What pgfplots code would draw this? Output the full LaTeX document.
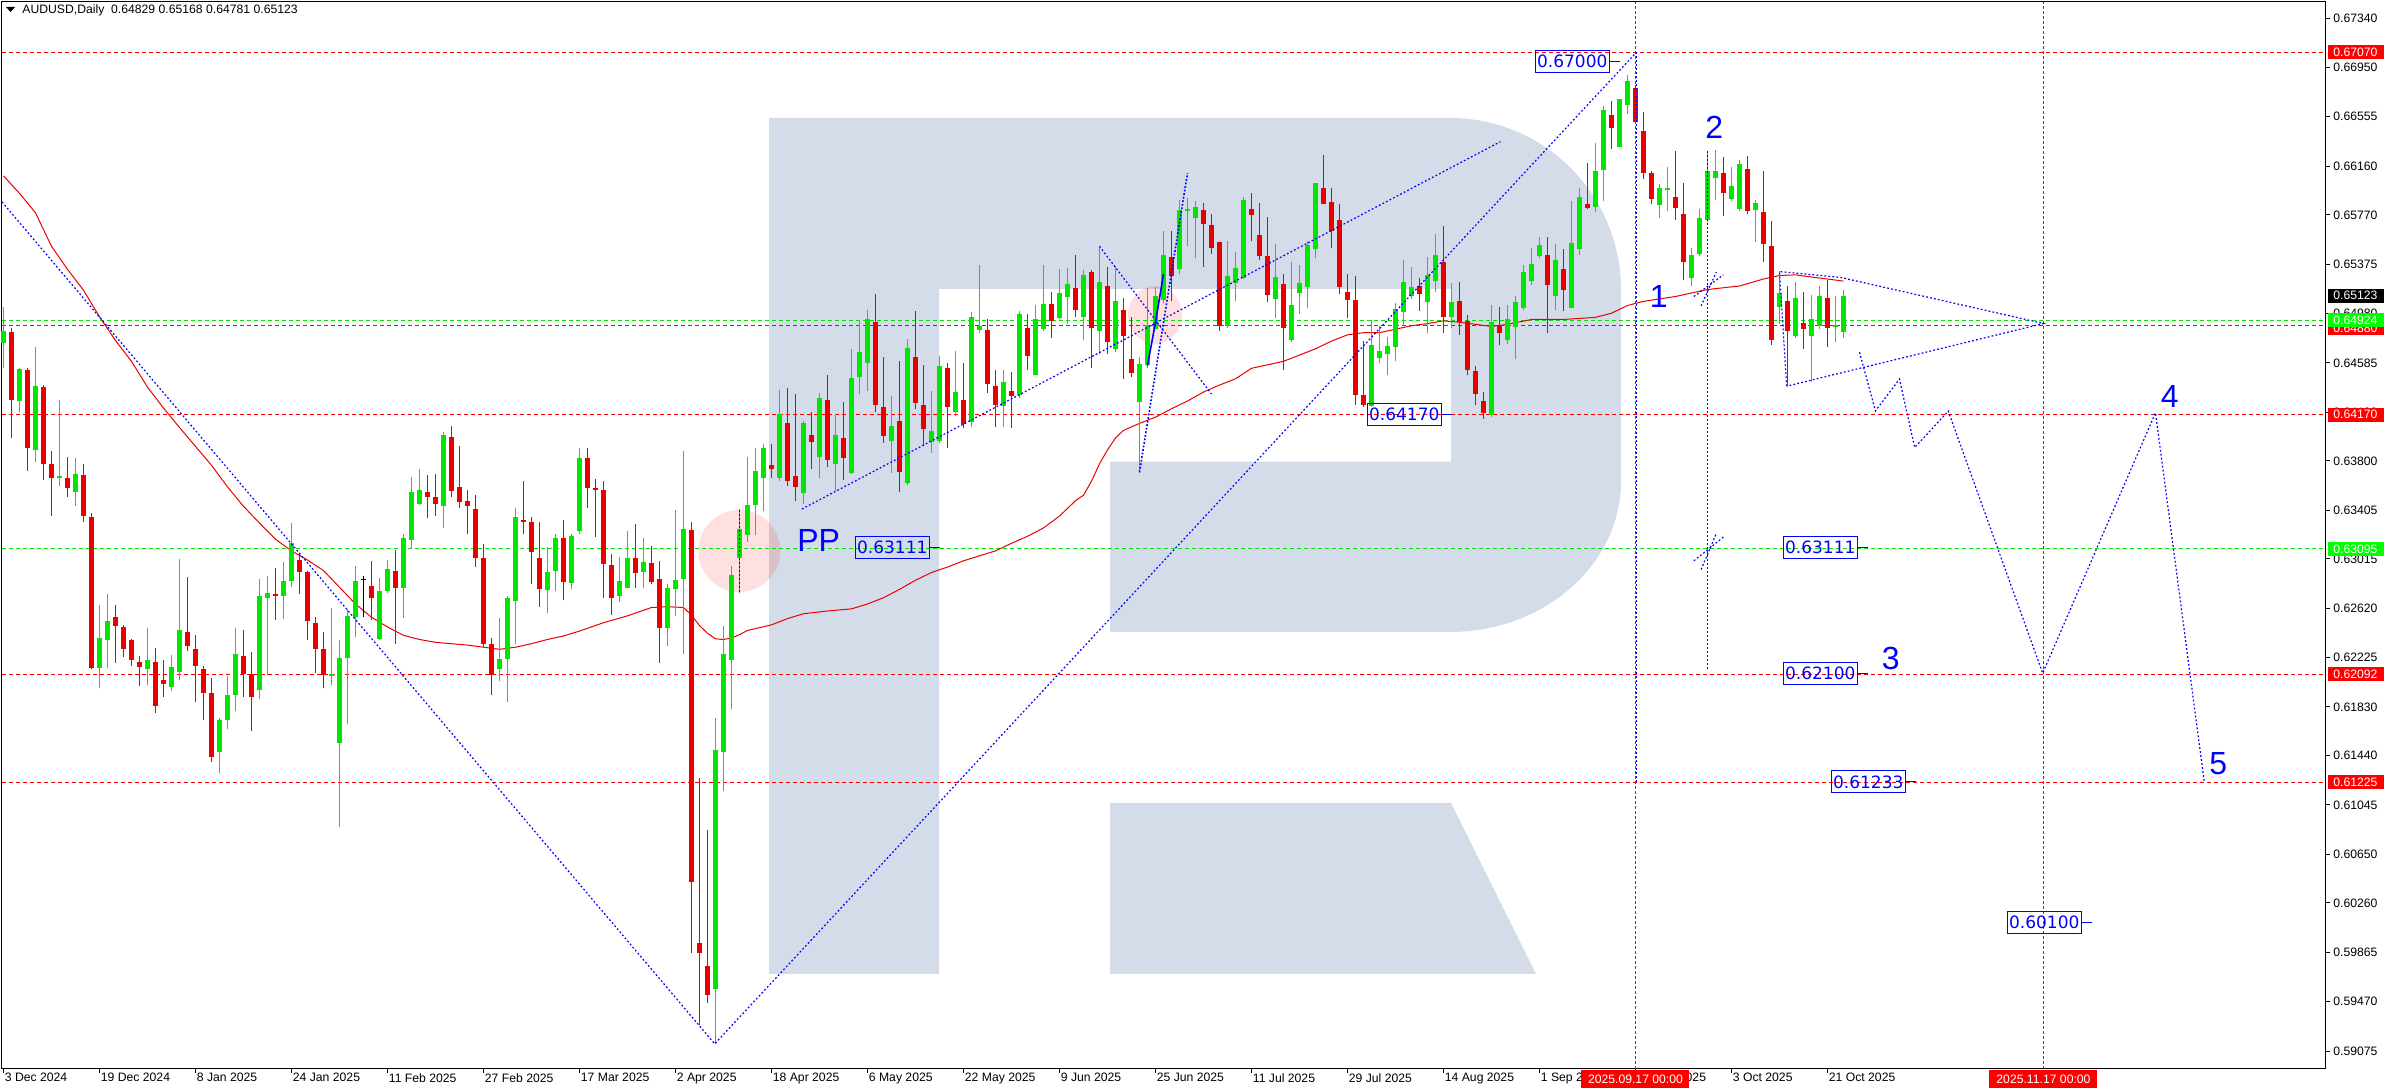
\documentclass[border=0pt]{standalone}
\usepackage{fontspec}
\setmainfont{Liberation Sans}
\newfontfamily\dvs{DejaVu Sans}
\usepackage{pgfplots}
\usepackage{pgfplotstable}
\pgfplotsset{compat=1.18}

\definecolor{cgreen}{RGB}{0,230,0}
\definecolor{cred}{RGB}{235,0,0}
\definecolor{cblue}{RGB}{0,0,255}
\definecolor{logo}{RGB}{211,220,232}
\definecolor{bgreen}{RGB}{0,255,0}
\definecolor{bred}{RGB}{255,0,0}

% bullish candles: bar index, open, high, low, close
\pgfplotstableread{
i o h l c
0 .64742 .65032 .64541 .64837
2 .64279 .64547 .64195 .64536
4 .63888 .64709 .63793 .64396
7 .63665 .64284 .63598 .63676
9 .63553 .63821 .63441 .63693
12 .62141 .62649 .61979 .62381
13 .62364 .62732 .62141 .62520
18 .62130 .62459 .62007 .62202
21 .61990 .62247 .61956 .62152
22 .62113 .63017 .62046 .62448
27 .61471 .61739 .61303 .61722
28 .61722 .62074 .61655 .61929
29 .61929 .62459 .61800 .62252
32 .61962 .62855 .61895 .62716
33 .62699 .62878 .62085 .62744
35 .62716 .62989 .62537 .62839
36 .62839 .63302 .62788 .63146
41 .62079 .62621 .62007 .62090
42 .61543 .62364 .60868 .62219
43 .62219 .62610 .61694 .62559
44 .62548 .62961 .62392 .62839
47 .62375 .62866 .62364 .62760
48 .62755 .63006 .62744 .62933
50 .62783 .63212 .62543 .63185
51 .63168 .63670 .63095 .63548
52 .63458 .63732 .63447 .63564
55 .63441 .64033 .63263 .64005
62 .62130 .62543 .62035 .62213
63 .62213 .62716 .61867 .62699
64 .62677 .63419 .62330 .63347
68 .62766 .63112 .62582 .62911
69 .62917 .63218 .62755 .63185
71 .62822 .63218 .62771 .63201
72 .63235 .63905 .63218 .63821
77 .62716 .63034 .62666 .62839
78 .62783 .63240 .62783 .63023
80 .62911 .63179 .62783 .62989
83 .62459 .62811 .62314 .62783
84 .62771 .63408 .62554 .62844
85 .62855 .63877 .62252 .63257
89 .59573 .61739 .59132 .61488
90 .61471 .62481 .61153 .62252
91 .62208 .62956 .61810 .62889
92 .63023 .63414 .62744 .63257
93 .63207 .63827 .63151 .63447
94 .63447 .63905 .63207 .63715
95 .63665 .63938 .63397 .63905
97 .63659 .64368 .63637 .64173
100 .63542 .64117 .63458 .64106
102 .63832 .64340 .63665 .64307
104 .63776 .64173 .63559 .64005
106 .63704 .64692 .63693 .64463
107 .64474 .64926 .64335 .64670
108 .64580 .65005 .64363 .64938
111 .63961 .64318 .63704 .64078
113 .63620 .64776 .63603 .64703
116 .63955 .64357 .63866 .64039
117 .63961 .64642 .63944 .64563
119 .64195 .64681 .64156 .64351
121 .64111 .64988 .64072 .64949
122 .64848 .65367 .64820 .64876
125 .64240 .64524 .64072 .64430
127 .64324 .64999 .64307 .64977
129 .64485 .65049 .64485 .64932
130 .64854 .65367 .64843 .65055
132 .64943 .65339 .64932 .65144
133 .65111 .65345 .64893 .65217
135 .64949 .65328 .64764 .65289
137 .64837 .65507 .64653 .65233
139 .64697 .65362 .64670 .65077
142 .64268 .64631 .63704 .64575
143 .64569 .65183 .64547 .64887
144 .64854 .65189 .64854 .65116
145 .65088 .65641 .65060 .65446
147 .65339 .65892 .65300 .65808
148 .65803 .65903 .65524 .65820
149 .65741 .65881 .65423 .65836
153 .64882 .65563 .64865 .65278
154 .65228 .65473 .65077 .65345
155 .65267 .65914 .65256 .65892
159 .65099 .65535 .64943 .65272
161 .64764 .65395 .64753 .65049
162 .65144 .65367 .64977 .65228
163 .65189 .65563 .65021 .65529
164 .65496 .66021 .65423 .66021
171 .64240 .64926 .64234 .64725
172 .64625 .64882 .64586 .64681
173 .64653 .64792 .64485 .64720
174 .64709 .65066 .64597 .65016
175 .64993 .65406 .64882 .65233
176 .65122 .65351 .65099 .65189
178 .65071 .65434 .64820 .65289
179 .65239 .65619 .65155 .65446
181 .64949 .65222 .64865 .65071
186 .64167 .65044 .64150 .64910
188 .64764 .65044 .64737 .64932
189 .64871 .65122 .64614 .65071
190 .65021 .65367 .65005 .65312
191 .65239 .65507 .65211 .65379
192 .65440 .65591 .65423 .65529
194 .65116 .65535 .65005 .65412
196 .65021 .65881 .65021 .65546
197 .65496 .65981 .65451 .65909
199 .65836 .66344 .65792 .66121
200 .66132 .66640 .65881 .66612
202 .66311 .66696 .66311 .66696
203 .66651 .66886 .66579 .66841
207 .65847 .66015 .65741 .65981
208 .65965 .66149 .65797 .65981
211 .65267 .65507 .65200 .65446
212 .65457 .65814 .65440 .65747
213 .65725 .66261 .65714 .66121
214 .66065 .66289 .65887 .66121
216 .65898 .66149 .65881 .66004
217 .65814 .66205 .65803 .66177
219 .65808 .65887 .65552 .65864
222 .65032 .65323 .64893 .65144
224 .64798 .65233 .64787 .65105
226 .64798 .65127 .64430 .64938
227 .64876 .65200 .64854 .65122
229 .64871 .65116 .64753 .64887
230 .64829 .65168 .64781 .65123
}\upbars

% bearish candles
\pgfplotstableread{
i o h l c
1 .64832 .64865 .63983 .64290
3 .64524 .64547 .63721 .63905
5 .64390 .64407 .63648 .63776
6 .63771 .63882 .63358 .63665
8 .63659 .63827 .63508 .63581
10 .63687 .63771 .63313 .63358
11 .63352 .63386 .62130 .62141
14 .62548 .62649 .62185 .62476
15 .62470 .62487 .62230 .62297
16 .62364 .62375 .62157 .62202
17 .62191 .62241 .62001 .62146
19 .62191 .62303 .61783 .61834
20 .62046 .62202 .61912 .62012
23 .62431 .62872 .62275 .62314
24 .62297 .62409 .61867 .62157
25 .62130 .62157 .61722 .61945
26 .61940 .62063 .61387 .61432
30 .62241 .62448 .61912 .62090
31 .62090 .62269 .61638 .61906
34 .62732 .62939 .62526 .62717
37 .63006 .63062 .62738 .62911
38 .62911 .62922 .62364 .62515
39 .62504 .62548 .62102 .62297
40 .62291 .62431 .61979 .62085
46 .62799 .62995 .62526 .62699
49 .62922 .63090 .62336 .62783
53 .63548 .63687 .63341 .63514
54 .63514 .63693 .63358 .63453
56 .63988 .64078 .63508 .63559
57 .63587 .63916 .63425 .63469
58 .63481 .63564 .63212 .63441
59 .63414 .63525 .62950 .63023
60 .63023 .63134 .62308 .62330
61 .62336 .62381 .61923 .62085
65 .63330 .63637 .63212 .63313
66 .63307 .63352 .62811 .63067
67 .63023 .63313 .62632 .62771
70 .63185 .63330 .62682 .62827
73 .63821 .63899 .63425 .63581
74 .63581 .63654 .63190 .63570
75 .63570 .63637 .62704 .62972
76 .62967 .63051 .62565 .62704
79 .63023 .63296 .62783 .62900
81 .62984 .63118 .62811 .62827
82 .62855 .62995 .62185 .62465
86 .63246 .63313 .59857 .60427
87 .59941 .61264 .59282 .59857
88 .59757 .60846 .59461 .59522
96 .63765 .63933 .63659 .63737
98 .64106 .64385 .63598 .63637
99 .63676 .64335 .63481 .63592
101 .64005 .64195 .63737 .63955
103 .64284 .64485 .63748 .63804
105 .63983 .64268 .63648 .63821
109 .64910 .65139 .64195 .64251
110 .64228 .64631 .63944 .64000
112 .64122 .64597 .63553 .63709
114 .64631 .64999 .64212 .64262
115 .64251 .64569 .63916 .64056
118 .64541 .64580 .63905 .64234
120 .64284 .64586 .64061 .64095
123 .64848 .64932 .64340 .64418
124 .64402 .64524 .64072 .64251
126 .64357 .64513 .64067 .64318
128 .64865 .64977 .64530 .64636
131 .65055 .65155 .64787 .64921
134 .65183 .65451 .64949 .65005
136 .65312 .65328 .64547 .64865
138 .65200 .65356 .64653 .64753
140 .65005 .65105 .64452 .64798
141 .64614 .64949 .64474 .64502
146 .65434 .65641 .65077 .65284
150 .65808 .65864 .65351 .65697
151 .65686 .65780 .65457 .65501
152 .65552 .65552 .64837 .64882
156 .65820 .65948 .65557 .65769
157 .65607 .65864 .65412 .65440
158 .65440 .65753 .65071 .65127
160 .65217 .65300 .64530 .64865
165 .65987 .66249 .65853 .65859
166 .65870 .65987 .65501 .65641
167 .65725 .65859 .65133 .65189
168 .65150 .65295 .64943 .65088
169 .65088 .65278 .64251 .64324
170 .64324 .64759 .64234 .64251
177 .65200 .65267 .64999 .65133
180 .65395 .65680 .64820 .64949
182 .65077 .65233 .64809 .64915
183 .64921 .64965 .64485 .64524
184 .64519 .64558 .64251 .64335
185 .64279 .64351 .64139 .64184
187 .64882 .65032 .64725 .64820
193 .65446 .65591 .64826 .65205
195 .65339 .65496 .64999 .65172
198 .65853 .66188 .65814 .65825
201 .66573 .66679 .66300 .66467
204 .66785 .66808 .66500 .66512
205 .66439 .66596 .66054 .66104
206 .66104 .66121 .65853 .65898
209 .65909 .66283 .65730 .65825
210 .65780 .66021 .65250 .65395
215 .66104 .66233 .65758 .65942
218 .66138 .66238 .65775 .65797
220 .65792 .66121 .65395 .65535
221 .65524 .65719 .64725 .64764
223 .65077 .65200 .64402 .64837
225 .64904 .65155 .64697 .64859
228 .65105 .65250 .64714 .64865
}\downbars

% doji bar (open = close)
\pgfplotstableread{
i o h l c
45 .62857 .62878 .62548 .62853
}\dojibars

\pgfplotsset{candle/.style={only marks, mark=*, mark size=0pt, mark options={draw=none, fill=none},
  error bars/.cd, y dir=plus, y explicit, error mark=none}}

\begin{document}
\begin{tikzpicture}
\useasboundingbox (0,0) rectangle (1195pt,545pt);
% watermark logo
\fill[logo] (384.5pt,486pt) -- (725pt,486pt)
  arc[start angle=90,end angle=0,x radius=85.5pt,y radius=86pt]
  -- (810.5pt,304.5pt)
  arc[start angle=0,end angle=-90,x radius=85.5pt,y radius=75.5pt]
  -- (555pt,229pt) -- (555pt,314.2pt) -- (725.5pt,314.2pt) -- (725.5pt,400.5pt)
  -- (469.5pt,400.5pt) -- (469.5pt,58pt) -- (384.5pt,58pt) -- cycle;
\fill[logo] (555pt,143.5pt) -- (725.5pt,143.5pt) -- (768pt,58pt) -- (555pt,58pt) -- cycle;
% highlight circles
\fill[red,opacity=0.12] (369.65pt,269.5pt) circle (20.5pt);
\fill[red,opacity=0.12] (577.5pt,387.5pt) ellipse (13.5pt and 14.5pt);

\begin{axis}[
  at={(1pt,10.5pt)}, anchor=south west, scale only axis,
  width=1162pt, height=533.5pt,
  xmin=-0.1875, xmax=290.3125, ymin=0.58931, ymax=0.67474,
  clip=false,
  axis line style={line width=0.5pt},
  tick align=outside, major tick length=2pt,
  tick style={black, line width=0.5pt},
  xtick pos=left, ytick pos=right, yticklabel pos=right,
  xtick={0,12,24,36,48,60,72,84,96,108,120,132,144,156,168,180,192,204,216,228},
  xticklabels={3 Dec 2024,19 Dec 2024,8 Jan 2025,24 Jan 2025,11 Feb 2025,27 Feb 2025,17 Mar 2025,2 Apr 2025,18 Apr 2025,6 May 2025,22 May 2025,9 Jun 2025,25 Jun 2025,11 Jul 2025,29 Jul 2025,14 Aug 2025,1 Sep 2025,17 Sep 2025,3 Oct 2025,21 Oct 2025},
  ytick={0.59075,0.59470,0.59865,0.60260,0.60650,0.61045,0.61440,0.61830,0.62225,0.62620,0.63015,0.63405,0.63800,0.64190,0.64585,0.64980,0.65375,0.65770,0.66160,0.66555,0.66950,0.67340},
  yticklabels={0.59075,0.59470,0.59865,0.60260,0.60650,0.61045,0.61440,0.61830,0.62225,0.62620,0.63015,0.63405,0.63800,0.64190,0.64585,0.64980,0.65375,0.65770,0.66160,0.66555,0.66950,0.67340},
  tick label style={font=\fontsize{6.1}{7}\selectfont},
  xticklabel style={anchor=north west, inner sep=0pt, xshift=0.5pt},
  yticklabel style={anchor=west, inner sep=0pt, xshift=1.5pt},
]
% horizontal levels
\addplot[bred, line width=0.5pt, dash pattern=on 2pt off 1.5pt] coordinates {(-0.1875,0.67070) (290.3125,0.67070)};
\addplot[bred, line width=0.5pt, dash pattern=on 2pt off 1.5pt] coordinates {(-0.1875,0.64880) (290.3125,0.64880)};
\addplot[bgreen!90!black, line width=0.5pt, dash pattern=on 2pt off 1.5pt] coordinates {(-0.1875,0.64924) (290.3125,0.64924)};
\addplot[bred, line width=0.5pt, dash pattern=on 2pt off 1.5pt] coordinates {(-0.1875,0.64170) (290.3125,0.64170)};
\addplot[bgreen!90!black, line width=0.5pt, dash pattern=on 2pt off 1.5pt] coordinates {(-0.1875,0.63095) (290.3125,0.63095)};
\addplot[bred, line width=0.5pt, dash pattern=on 2pt off 1.5pt] coordinates {(-0.1875,0.62092) (290.3125,0.62092)};
\addplot[bred, line width=0.5pt, dash pattern=on 2pt off 1.5pt] coordinates {(-0.1875,0.61225) (290.3125,0.61225)};
% vertical time lines
\addplot[bred, line width=0.5pt, dash pattern=on 1.5pt off 1pt] coordinates {(204,0.58931) (204,0.67474)};
\addplot[bred, line width=0.5pt, dash pattern=on 1.5pt off 1pt] coordinates {(255,0.58931) (255,0.67474)};

% moving average
\addplot[cred, line width=0.5pt] coordinates {
(0,0.66082) (2,0.65942) (4,0.65786) (6,0.65518) (8,0.65334) (10,0.65166) (12,0.64954) (14,0.64764) (16,0.64597) (18,0.64390) (20,0.64223) (22,0.64067) (24,0.63916) (26,0.63765) (28,0.63592) (30,0.63436) (32,0.63302) (34,0.63173) (36,0.63079) (38,0.63006) (40,0.62922) (42,0.62788) (44,0.62654) (46,0.62548) (48,0.62470) (50,0.62403) (52,0.62370) (54,0.62347) (56,0.62336) (58,0.62325) (60,0.62308) (62,0.62291) (64,0.62308) (66,0.62336) (68,0.62370) (70,0.62398) (72,0.62437) (75,0.62504) (78,0.62559) (81,0.62626) (83,0.62632) (85,0.62626) (86,0.62565) (87,0.62481) (88,0.62420) (89,0.62375) (90,0.62370) (91,0.62381) (92,0.62409) (93,0.62442) (96,0.62487) (98,0.62537) (100,0.62576) (103,0.62598) (106,0.62615) (108,0.62654) (110,0.62704) (112,0.62771) (114,0.62844) (116,0.62906) (118,0.62950) (120,0.63000) (122,0.63040) (124,0.63079) (126,0.63140) (128,0.63196) (130,0.63263) (132,0.63358) (134,0.63481) (135,0.63525) (136,0.63637) (137,0.63776) (138,0.63888) (139,0.63983) (140,0.64044) (142,0.64100) (144,0.64150) (146,0.64217) (148,0.64279) (150,0.64351) (152,0.64407) (154,0.64457) (156,0.64541) (158,0.64569) (160,0.64597) (162,0.64647) (164,0.64697) (166,0.64759) (168,0.64809) (170,0.64826) (172,0.64826) (174,0.64854) (176,0.64882) (178,0.64899) (180,0.64921) (182,0.64910) (184,0.64893) (186,0.64876) (188,0.64893) (191,0.64932) (195,0.64932) (199,0.64949) (201,0.64982) (203,0.65044) (205,0.65077) (209,0.65116) (213,0.65172) (217,0.65200) (220,0.65256) (222,0.65284) (224,0.65289) (226,0.65272) (228,0.65256) (230,0.65239)};

% candles: wicks then bodies
\addplot[candle, error bar style={cgreen, line width=0.5pt}]
  table[x=i, y=l, y error expr=\thisrow{h}-\thisrow{l}] {\upbars};
\addplot[candle, error bar style={cgreen, line width=2.5pt}]
  table[x=i, y=o, y error expr=\thisrow{c}-\thisrow{o}] {\upbars};
\addplot[candle, error bar style={cred, line width=0.5pt}]
  table[x=i, y=l, y error expr=\thisrow{h}-\thisrow{l}] {\downbars};
\addplot[candle, error bar style={cred, line width=2.5pt}]
  table[x=i, y=c, y error expr=\thisrow{o}-\thisrow{c}] {\downbars};
\addplot[candle, error bar style={black, line width=0.5pt}]
  table[x=i, y=l, y error expr=\thisrow{h}-\thisrow{l}] {\dojibars};
\addplot[candle, error bar style={black, line width=2.5pt}]
  table[x=i, y=c, y error expr=\thisrow{o}-\thisrow{c}] {\dojibars};

% wave analysis lines
\pgfplotsset{wv/.style={cblue, line width=0.6pt, dash pattern=on 0.9pt off 1.1pt}}
\addplot[wv] coordinates {(-0.1875,0.65873) (88.9,0.59132) (204.1,0.67070)};
\addplot[wv] coordinates {(99.8,0.63414) (187.1,0.66355)};
\addplot[wv] coordinates {(137.0,0.65518) (151.0,0.64335)};
\addplot[cblue, line width=0.8pt, dash pattern=on 0.9pt off 0.9pt] coordinates {(142.0,0.63709) (148.0,0.66104)};
\addplot[cblue, line width=0.8pt] coordinates {(143.0,0.64563) (144.0,0.64909) (145.0,0.65295)};
\addplot[wv] coordinates {(92.0,0.63408) (92.0,0.62744)};
\addplot[wv] coordinates {(204.1,0.67070) (204.1,0.61225)};
\addplot[wv] coordinates {(213.0,0.66277) (213.0,0.62119)};
\addplot[wv] coordinates {(211.3,0.65116) (215.0,0.65290)};
\addplot[wv] coordinates {(212.2,0.65040) (214.1,0.65312)};
\addplot[wv] coordinates {(211.3,0.63000) (215.0,0.63190)};
\addplot[wv] coordinates {(212.2,0.62930) (214.1,0.63218)};
\addplot[wv] coordinates {(222.9,0.64398) (222.0,0.65316) (229.7,0.65268) (255.0,0.64900) (222.9,0.64398)};
\addplot[wv] coordinates {(232.0,0.64670) (234.0,0.64200) (237.0,0.64455) (238.9,0.63907) (243.1,0.64198) (254.9,0.62100) (269.0,0.64185) (275.1,0.61229)};

% wave labels
\tikzset{wl/.style={text=cblue, font=\fontsize{16}{16}\selectfont, inner sep=0pt}}
\node[wl] at (axis cs:206.9,0.65116) {1};
\node[wl] at (axis cs:213.85,0.66467) {2};
\node[wl] at (axis cs:235.9,0.62216) {3};
\node[wl] at (axis cs:270.8,0.64312) {4};
\node[wl] at (axis cs:276.85,0.61379) {5};
\node[wl] at (axis cs:101.9,0.63162) {PP};

% price boxes
\tikzset{pb/.style={draw=cblue, text=cblue, line width=0.5pt, font=\dvs\fontsize{8.5}{8.5}\selectfont, inner xsep=1pt, inner ysep=0pt, minimum height=11pt}}
\node[pb] (p1) at (axis cs:196.1,0.66998) {0.67000};
\node[pb] (p2) at (axis cs:175.1,0.64170) {0.64170};
\node[pb] (p3) at (axis cs:111.1,0.63106) {0.63111};
\node[pb] (p4) at (axis cs:227.1,0.63106) {0.63111};
\node[pb] (p5) at (axis cs:227.1,0.62101) {0.62100};
\node[pb] (p6) at (axis cs:233.1,0.61229) {0.61233};
\node[pb] (p7) at (axis cs:255.1,0.60104) {0.60100};

% anchors for axis badges
\coordinate (r1) at (axis cs:290.3125,0.67070);
\coordinate (r2) at (axis cs:290.3125,0.65123);
\coordinate (r3) at (axis cs:290.3125,0.64880);
\coordinate (r4) at (axis cs:290.3125,0.64924);
\coordinate (r5) at (axis cs:290.3125,0.64170);
\coordinate (r6) at (axis cs:290.3125,0.63095);
\coordinate (r7) at (axis cs:290.3125,0.62092);
\coordinate (r8) at (axis cs:290.3125,0.61225);
\coordinate (d1) at (axis cs:204,0.58931);
\coordinate (d2) at (axis cs:255,0.58931);
\end{axis}

% tails of the price boxes
\draw[cblue, line width=0.5pt] (p1.east) -- ++(5pt,0);
\draw[cblue, line width=0.5pt] (p2.east) -- ++(5pt,0);
\draw[cblue, line width=0.5pt] (p3.east) -- ++(5pt,0);
\draw[cblue, line width=0.5pt] (p4.east) -- ++(5pt,0);
\draw[cblue, line width=0.5pt] (p5.east) -- ++(5pt,0);
\draw[cblue, line width=0.5pt] (p6.east) -- ++(5pt,0);
\draw[cblue, line width=0.5pt] (p7.east) -- ++(5pt,0);

% header
\fill[black] (3pt,541.5pt) -- (7.5pt,541.5pt) -- (5.25pt,539pt) -- cycle;
\node[anchor=west, inner sep=0pt, font=\fontsize{6.1}{7}\selectfont] at (11pt,539.6pt) {AUDUSD,Daily\ \ 0.64829 0.65168 0.64781 0.65123};

% price badges on the right axis
\tikzset{bd/.style={anchor=west, inner xsep=2.5pt, inner ysep=0pt, minimum height=7pt, text width=23pt, align=left, font=\fontsize{6.1}{7}\selectfont}}
\node[bd, fill=bred, text=white] at ([xshift=1pt]r1) {0.67070};
\node[bd, fill=black, text=white] at ([xshift=1pt]r2) {0.65123};
\node[bd, fill=bred, text=white] at ([xshift=1pt,yshift=-1.2pt]r3) {0.64880};
\node[bd, fill=bgreen, text=white] at ([xshift=1pt]r4) {0.64924};
\node[bd, fill=bred, text=white] at ([xshift=1pt]r5) {0.64170};
\node[bd, fill=bgreen, text=white] at ([xshift=1pt]r6) {0.63095};
\node[bd, fill=bred, text=white] at ([xshift=1pt]r7) {0.62092};
\node[bd, fill=bred, text=white] at ([xshift=1pt]r8) {0.61225};
% date badges
\tikzset{db/.style={anchor=north, fill=bred, text=white, inner sep=0pt, minimum width=54pt, minimum height=9pt, font=\fontsize{6.1}{7}\selectfont}}
\node[db] at ([yshift=-0.5pt]d1) {2025.09.17 00:00};
\node[db] at ([yshift=-0.5pt]d2) {2025.11.17 00:00};
\end{tikzpicture}
\end{document}
